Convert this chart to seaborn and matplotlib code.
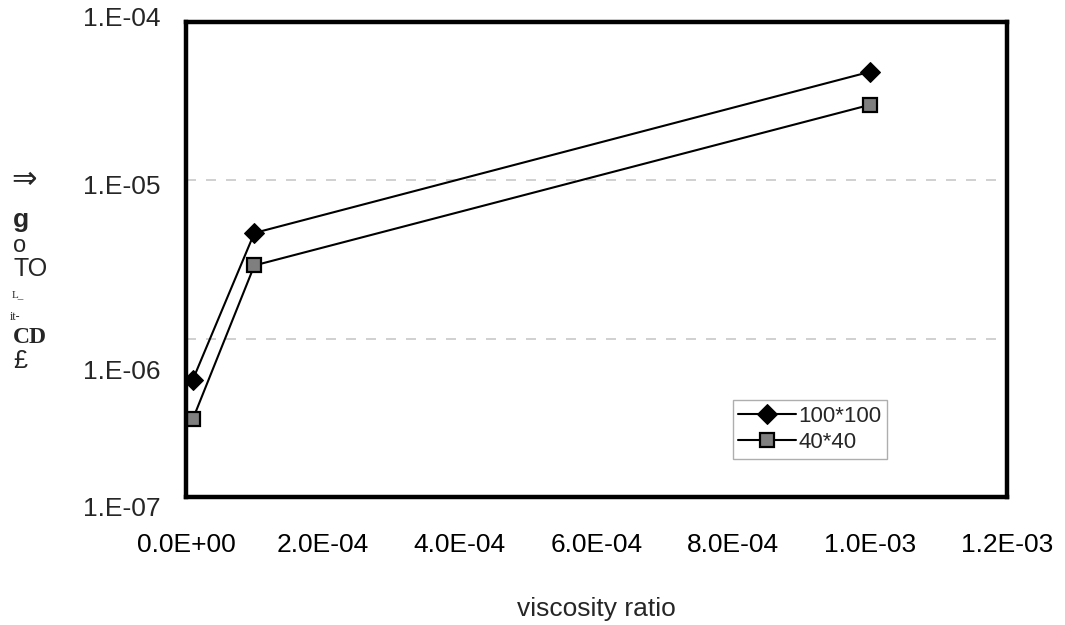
import matplotlib
matplotlib.use("Agg")
import matplotlib.pyplot as plt
import matplotlib.transforms as mtransforms
import numpy as np
import pandas as pd
import seaborn as sns

# ---- data ----
viscosity_ratio = [1e-5, 1e-4, 1e-3]
series_names = ["100*100", "40*40"]
values_100 = [5.5e-7, 4.65e-6, 4.85e-5]
values_40 = [3.1e-7, 2.9e-6, 3.0e-5]
x_ticks = [0.0, 2e-4, 4e-4, 6e-4, 8e-4, 1e-3, 1.2e-3]
x_tick_labels = ["0.0E+00", "2.0E-04", "4.0E-04", "6.0E-04", "8.0E-04", "1.0E-03", "1.2E-03"]
y_ticks = [1e-7, 1e-6, 1e-5, 1e-4]
y_tick_labels = ["1.E-07", "1.E-06", "1.E-05", "1.E-04"]
x_label = "viscosity ratio"
y_label_parts = ["⇒", "g", "o", "TO", "L_", "it-", "CD", "£"]

df = pd.DataFrame({
    "x": viscosity_ratio * 2,
    "y": values_100 + values_40,
    "grid": [series_names[0]] * 3 + [series_names[1]] * 3,
})

sns.set_style("white")
plt.rcParams["font.family"] = ["Liberation Sans", "DejaVu Sans"]

fig = plt.figure(figsize=(10.65, 6.25), dpi=100)
ax = fig.add_axes([0.1746, 0.2048, 0.7709, 0.76])

styles = {
    series_names[0]: dict(marker="D", markersize=10, markerfacecolor="black", markeredgecolor="black"),
    series_names[1]: dict(marker="s", markersize=10.5, markerfacecolor="#7f7f7f", markeredgecolor="black",
                          markeredgewidth=1.6),
}
for name in series_names:
    sub = df[df["grid"] == name]
    sns.lineplot(data=sub, x="x", y="y", ax=ax, color="black", linewidth=1.5,
                 label=name, **styles[name])

ax.set_yscale("log")
ax.set_xlim(0, 1.2e-3)
ax.set_ylim(1e-7, 1e-4)
ax.set_xticks(x_ticks)
ax.set_xticklabels(x_tick_labels)
ax.set_yticks(y_ticks)
ax.set_yticklabels([])
ax.yaxis.set_minor_locator(matplotlib.ticker.NullLocator())
ax.tick_params(axis="both", length=0, labelsize=19, colors="black")
ax.tick_params(axis="x", pad=26)
ax.set_xlabel(x_label, fontsize=19, labelpad=29)
ax.set_ylabel("")

# y tick labels (the scanned original has them slightly displaced)
label_shift_px = [12, 33, 7, -3]  # downward shift in pixels
ytrans = mtransforms.blended_transform_factory(ax.transAxes, ax.transData)
for v, lab, dy in zip(y_ticks, y_tick_labels, label_shift_px):
    t = mtransforms.offset_copy(ytrans, fig=fig, x=-25, y=-dy, units="dots")
    ax.text(0, v, lab, transform=t, ha="right", va="center", fontsize=19, clip_on=False)

for yv in [1e-6, 1e-5]:
    ax.axhline(yv, color="#c8c8c8", linewidth=1.2, linestyle=(0, (6, 6)), zorder=0)

for s in ax.spines.values():
    s.set_linewidth(3.2)
    s.set_color("black")

leg = ax.legend(loc="upper left", bbox_to_anchor=(0.666, 0.204), borderaxespad=0,
                fontsize=16, frameon=True, fancybox=False, handlelength=2.6,
                handletextpad=0.1, borderpad=0.25, labelspacing=0.25)
leg.get_frame().set_edgecolor("#9a9a9a")
leg.get_frame().set_linewidth(1.0)

# garbled vertical y-label (as in the reference)
sans = ["Liberation Sans", "DejaVu Sans"]
serif = ["Liberation Serif", "DejaVu Serif"]
ylab_specs = [
    (180, 22, "normal", sans, 11),
    (220, 19, "bold", sans, 13),
    (246, 17, "normal", sans, 13),
    (269, 18, "normal", sans, 13),
    (295, 8, "normal", serif, 12),
    (317, 8.5, "normal", serif, 10),
    (338, 17, "bold", serif, 13),
    (361, 18, "normal", sans, 13),
]
for txt, (ypix, fs, fw, fam, xpix) in zip(y_label_parts, ylab_specs):
    fig.text(xpix / 1065, 1 - ypix / 625, txt, fontsize=fs, fontweight=fw, family=fam,
             ha="left", va="center")

fig.savefig("out.png", dpi=100)
